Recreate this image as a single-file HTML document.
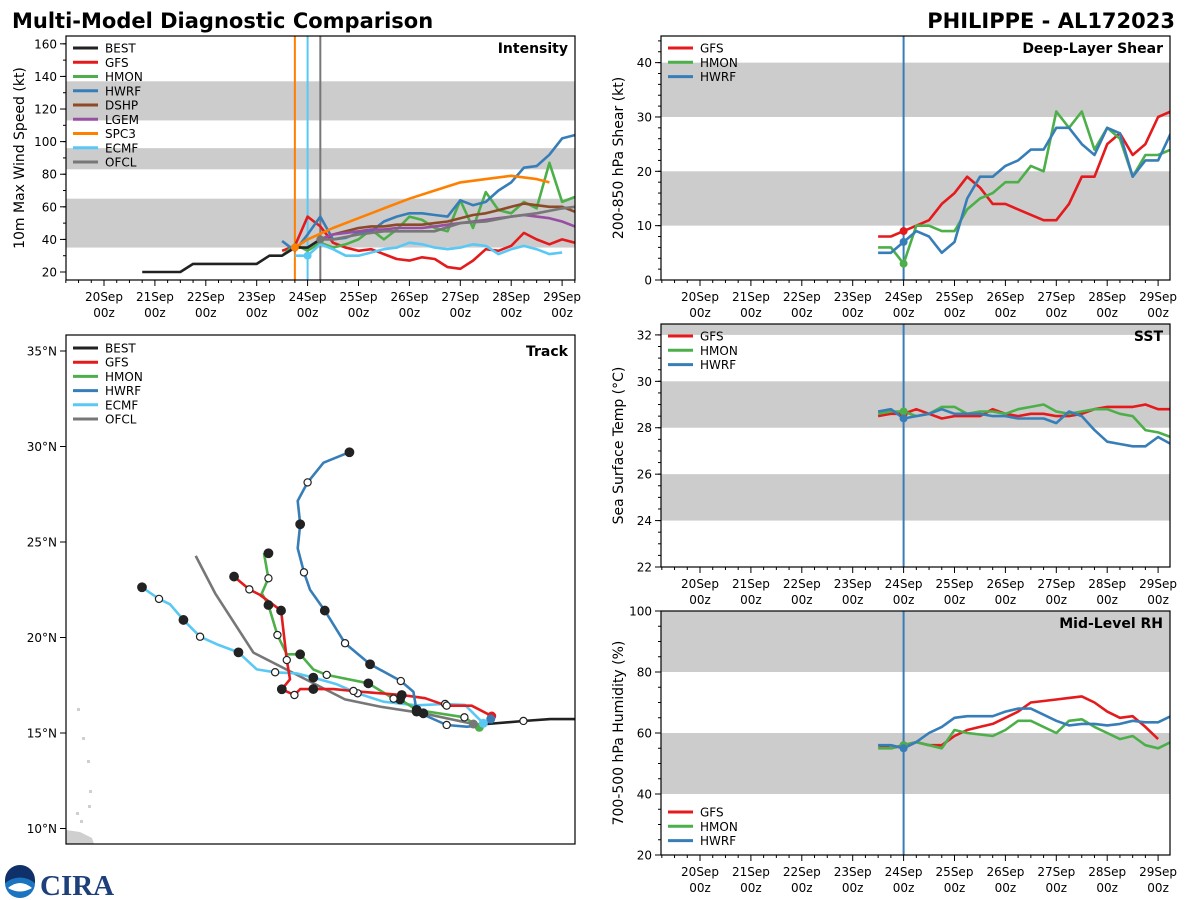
<!DOCTYPE html>
<html><head><meta charset="utf-8"><style>
html,body{margin:0;padding:0;background:#fff;}
svg{display:block;font-family:"DejaVu Sans","Liberation Sans",sans-serif;}
</style></head><body>
<svg id="chart" width="1200" height="900" viewBox="0 0 1200 900" xmlns="http://www.w3.org/2000/svg">
<text x="12" y="28" font-size="21" font-weight="bold" fill="#000">Multi-Model Diagnostic Comparison</text>
<text x="1175" y="28" font-size="21" font-weight="bold" fill="#000" text-anchor="end">PHILIPPE - AL172023</text>
<g>
<circle cx="20" cy="883" r="15" fill="#1a74c0"/>
<path d="M5,883 Q20,872 35,883 L35,880 A15,15 0 0 0 5,880 Z" fill="#10306a"/>
<path d="M8,888 Q20,878 32,888 Q20,895 8,888Z" fill="#fff"/>
<text x="40" y="895" font-size="29" font-weight="bold" fill="#1d3f7a" font-family="Liberation Serif,serif">CIRA</text>
</g>
</svg>
<script>
// ---------- data ----------
const T = [23.5,23.75,24,24.25,24.5,24.75,25,25.25,25.5,25.75,26,26.25,26.5,26.75,27,27.25,27.5,27.75,28,28.25,28.5,28.75,29,29.25];
const bestT = [20.75,21,21.25,21.5,21.75,22,22.25,22.5,22.75,23,23.25,23.5,23.75,24,24.25];
const bestV = [20,20,20,20,25,25,25,25,25,25,30,30,35,35,40];
const gfsV = [33,36,54,48,38,35,33,34,31,28,27,29,28,23,22,27,34,33,36,44,40,37,40,38];
const hmonV = [30,37,33,38,35,37,40,46,40,46,54,52,47,45,64,47,69,58,56,63,59,87,63,66];
const hwrfV = [39,33,43,54,40,41,44,45,51,54,56,56,55,54,64,61,63,70,75,84,85,92,102,104];
const dshpV = [40,43,45,47,48,48,49,49,49,50,51,53,55,56,58,60,62,61,60,60,57];
const lgemV = [40,43,44,45,46,46,47,47,47,48,49,50,51,52,53,54,55,54,53,51,48];
const spcT = [23.75,24,24.5,25,25.5,26,26.5,27,27.5,28,28.5,28.75];
const spcV = [35,40,47,53,59,65,70,75,77,79,77,75];
const ecmT = [23.75,24,24.25,24.5,24.75,25,25.25,25.5,25.75,26,26.25,26.5,26.75,27,27.25,27.5,27.75,28,28.25,28.5,28.75,29];
const ecmV = [30,30,37,34,30,30,32,34,35,38,37,35,34,35,37,36,31,34,36,34,31,32];
const ofclT = [24.25,24.5,25,25.5,26,26.5,27,27.5,28,28.5,29,29.25];
const ofclV = [40,40,43,45,45,45,50,51,54,56,59,60];

const shearGfs = [8,8,9,10,11,14,16,19,17,14,14,13,12,11,11,14,19,19,25,27,23,25,30,31];
const shearHmon = [6,6,3,10,10,9,9,13,15,16,18,18,21,20,31,28,31,24,28,26,19,23,23,24];
const shearHwrf = [5,5,7,9,8,5,7,15,19,19,21,22,24,24,28,28,25,23,28,27,19,22,22,27];

const sstGfs = [28.5,28.6,28.6,28.8,28.6,28.4,28.5,28.5,28.5,28.8,28.6,28.5,28.6,28.6,28.5,28.5,28.6,28.8,28.9,28.9,28.9,29.0,28.8,28.8];
const sstHmon = [28.6,28.7,28.7,28.5,28.6,28.9,28.9,28.6,28.7,28.7,28.6,28.8,28.9,29.0,28.7,28.6,28.7,28.8,28.8,28.6,28.5,27.9,27.8,27.6];
const sstHwrf = [28.7,28.8,28.4,28.5,28.6,28.8,28.6,28.6,28.6,28.5,28.5,28.4,28.4,28.4,28.2,28.7,28.5,27.9,27.4,27.3,27.2,27.2,27.6,27.3];

const rhGfs = [56,55,56,57,56,56,59,61,62,63,65,67,70,70.5,71,71.5,72,70,67,65,65.5,62,58];
const rhHmon = [55,55,56,57,56,55,61,60,59.5,59,61,64,64,62,60,64,64.5,62,60,58,59,56,55,57];
const rhHwrf = [56,56,55,57,60,62,65,65.5,65.5,65.5,67,68,68,66,64,62.5,63,63,62.5,63,64,63.5,63.5,65.5];

// track [lon, lat], markers f=filled, o=open
const trkBest = [[-35,15.73],[-36.3,15.73],[-37.7,15.63],[-39.6,15.47]];
const trkBestM = ['','','o',''];
const trkGfs = [[-39.36,15.89],[-40.41,16.43],[-41.72,16.43],[-42.85,16.82],[-44.07,16.99],[-46.25,17.16],[-46.6,17.2],[-47.65,17.3],[-48.7,17.3],[-49.39,17.3],[-49.69,16.99],[-50.35,17.29],[-49.92,17.81],[-50.09,18.82],[-50.39,21.41],[-51.49,22.23],[-52.05,22.52],[-52.85,23.19]];
const trkGfsM = ['','','o','','f','','o','','f','','o','f','','o','f','','o','f'];
const trkHmon = [[-40.01,15.3],[-40.79,15.82],[-43.29,16.21],[-44.16,16.76],[-44.5,16.8],[-45.82,17.6],[-48.0,18.04],[-48.7,18.33],[-49.39,19.12],[-50.09,19.12],[-50.58,20.13],[-51.05,21.7],[-51.4,22.31],[-51.05,23.1],[-51.28,24.37],[-51.05,24.41]];
const trkHmonM = ['','o','f','f','o','f','o','','f','','o','f','','o','','f'];
const trkHwrf = [[-39.41,15.73],[-39.8,15.4],[-40.67,15.33],[-41.72,15.42],[-43.29,16.12],[-43.46,17.16],[-44.12,17.72],[-45.73,18.6],[-47.04,19.7],[-48.1,21.41],[-48.87,22.49],[-49.19,23.41],[-49.52,24.67],[-49.39,25.93],[-49.52,27.15],[-49.0,28.12],[-48.17,29.15],[-46.81,29.7]];
const trkHwrfM = ['','','','o','f','','o','f','o','f','','o','','f','','o','','f'];
const trkEcmf = [[-39.8,15.51],[-40.76,16.47],[-41.8,16.52],[-43.3,16.45],[-45.03,16.64],[-46.38,17.08],[-47.47,17.55],[-48.7,17.9],[-49.57,18.12],[-50.7,18.18],[-51.66,18.33],[-52.62,19.22],[-53.67,19.61],[-54.63,20.04],[-55.5,20.92],[-56.2,21.74],[-56.78,22.02],[-57.67,22.63]];
const trkEcmfM = ['','','o','','','o','','f','','o','','f','','o','f','','o','f'];
const trkOfcl = [[-40.32,15.47],[-42.94,16.03],[-45.21,16.38],[-47.04,16.76],[-51.84,19.21],[-53.84,22.31],[-54.86,24.27]];
const trkOfclM = ['','f','','','','',''];
const latTicks = [35,30,25,20,15,10];

// ---------- drawing ----------
const svg = document.getElementById('chart');
const NS = 'http://www.w3.org/2000/svg';
function el(tag, attrs, parent){ const e=document.createElementNS(NS,tag); for(const k in attrs) e.setAttribute(k,attrs[k]); (parent||svg).appendChild(e); return e; }
const C = {BEST:'#222222',GFS:'#e41a1c',HMON:'#4daf4a',HWRF:'#377eb8',DSHP:'#8c4b26',LGEM:'#984ea3',SPC3:'#ff7f00',ECMF:'#5ac8f5',OFCL:'#777777'};
const dayPx = 50.9;
const dates = ['20Sep','21Sep','22Sep','23Sep','24Sep','25Sep','26Sep','27Sep','28Sep','29Sep'];

function panel(p){
  const g = el('g',{});
  
  
  const cid = 'clip-'+p.name;
  const cp = el('clipPath',{id:cid},g); el('rect',{x:p.l,y:p.t,width:p.r-p.l,height:p.b-p.t},cp);
  p.X = d => p.x20 + (d-20)*dayPx;
  p.Y = v => p.b - (v - p.vmin)*(p.b-p.t)/(p.vmax-p.vmin);
  p.g = g; p.clip = 'url(#'+cid+')';
  p.bands.forEach(bd=>{
    const r = el('rect',{x:p.l,y:p.Y(bd[1]),width:p.r-p.l,height:p.Y(bd[0])-p.Y(bd[1]),fill:'#cccccc','clip-path':p.clip},g);
    
    
  });
  if(p.xaxis){
    for(let d=19.25; d<=29.3; d+=0.25){
      const x=p.X(d); if(x<p.l-0.5||x>p.r+0.5) continue;
      const major = Math.abs(d-Math.round(d))<1e-6;
      el('line',{x1:x,x2:x,y1:p.b,y2:p.b+(major?6:3),stroke:'#000','stroke-width':1},g);
    }
    dates.forEach((s,i)=>{
      const x=p.X(20+i);
      const t1=el('text',{x:x,y:p.b+21,'font-size':12,'text-anchor':'middle'},g); t1.textContent=s;
      
      
      const t2=el('text',{x:x,y:p.b+37,'font-size':12,'text-anchor':'middle'},g); t2.textContent='00z';
    });
  }
  if(p.yticks){
    for(let v=p.minorStart; v<=p.vmax+1e-6; v+=p.minor){
      const y=p.Y(v); if(y<p.t-0.5||y>p.b+0.5) continue;
      el('line',{x1:p.l-3,x2:p.l,y1:y,y2:y,stroke:'#000'},g);
    }
    p.yticks.forEach(v=>{
      const y=p.Y(v);
      el('line',{x1:p.l-6,x2:p.l,y1:y,y2:y,stroke:'#000'},g);
      const t=el('text',{x:p.l-9,y:y+4.5,'font-size':12,'text-anchor':'end'},g); t.textContent=v;
      
      
    });
  }
  if(p.ytitle){
    const cy=(p.t+p.b)/2;
    const t=el('text',{x:p.ytx,y:cy,'font-size':14,'text-anchor':'middle',transform:`rotate(-90 ${p.ytx} ${cy})`},g);
    t.textContent=p.ytitle;
    
    
  }
  const tt=el('text',{x:p.r-7,y:p.t+17,'font-size':14,'font-weight':'bold','text-anchor':'end'},g); tt.textContent=p.title;
  
  
  return p;
}
function frame(p){
  const r=el('rect',{x:p.l,y:p.t,width:p.r-p.l,height:p.b-p.t,fill:'none',stroke:'#000','stroke-width':1.2},p.g);
  
  
}
function series(p, ts, vs, color, name){
  const pts = vs.map((v,i)=>p.X(ts[i]).toFixed(1)+','+p.Y(v).toFixed(1)).join(' ');
  const pl=el('polyline',{points:pts,fill:'none',stroke:color,'stroke-width':2.6,'stroke-linejoin':'round','clip-path':p.clip},p.g);
  
  
}
function dot(p,d,v,color){
  const c=el('circle',{cx:p.X(d),cy:p.Y(v),r:4,fill:color},p.g);
  
  
}
function legend(p, names, x, y, dy){
  const lg=el('g',{},p.g);
  
  
  names.forEach((n,i)=>{
    const yy=y+i*dy;
    el('line',{x1:x,x2:x+25,y1:yy,y2:yy,stroke:C[n],'stroke-width':3},lg);
    const t=el('text',{x:x+32,y:yy+4.5,'font-size':12},lg); t.textContent=n;
    
    
  });
}

// Intensity
const pI = panel({name:'intensity-panel',l:66,r:575,t:36,b:280,x20:104,vmin:15.1,vmax:164.8,
  bands:[[35,65],[83,96],[113,137]],xaxis:true,yticks:[20,40,60,80,100,120,140,160],minor:10,minorStart:20,
  ytitle:'10m Max Wind Speed (kt)',ytx:24,title:'Intensity'});
[[23.75,'SPC3'],[24,'ECMF'],[24.25,'OFCL']].forEach(a=>{
  const ln=el('line',{x1:pI.X(a[0]),x2:pI.X(a[0]),y1:pI.t,y2:pI.b,stroke:C[a[1]],'stroke-width':2},pI.g);
  
  
});
series(pI,T,gfsV,C.GFS,'gfs-intensity');
series(pI,T,hmonV,C.HMON,'hmon-intensity');
series(pI,T,hwrfV,C.HWRF,'hwrf-intensity');
series(pI,T.slice(3),dshpV,C.DSHP,'dshp-intensity');
series(pI,T.slice(3),lgemV,C.LGEM,'lgem-intensity');
series(pI,spcT,spcV,C.SPC3,'spc3-intensity');
series(pI,ecmT,ecmV,C.ECMF,'ecmf-intensity');
series(pI,ofclT,ofclV,C.OFCL,'ofcl-intensity');
series(pI,bestT,bestV,C.BEST,'best-intensity');
dot(pI,spcT[0],spcV[0],C.SPC3); dot(pI,ecmT[1],ecmV[1],C.ECMF); dot(pI,ofclT[0],ofclV[0],C.OFCL);
legend(pI,['BEST','GFS','HMON','HWRF','DSHP','LGEM','SPC3','ECMF','OFCL'],73,48,14.25);
frame(pI);

// Shear
const pS = panel({name:'shear-panel',l:661,r:1170,t:36,b:280,x20:700,vmin:0,vmax:44.9,
  bands:[[10,20],[30,40]],xaxis:true,yticks:[0,10,20,30,40],minor:2,minorStart:0,
  ytitle:'200-850 hPa Shear (kt)',ytx:623,title:'Deep-Layer Shear'});
function initLine(p){ const ln=el('line',{x1:p.X(24),x2:p.X(24),y1:p.t,y2:p.b,stroke:C.HWRF,'stroke-width':2},p.g);
    }
initLine(pS);
series(pS,T,shearGfs,C.GFS,'gfs-shear'); series(pS,T,shearHmon,C.HMON,'hmon-shear'); series(pS,T,shearHwrf,C.HWRF,'hwrf-shear');
dot(pS,24,shearGfs[2],C.GFS); dot(pS,24,shearHmon[2],C.HMON); dot(pS,24,shearHwrf[2],C.HWRF);
legend(pS,['GFS','HMON','HWRF'],668,48,14.3);
frame(pS);

// SST
const pT = panel({name:'sst-panel',l:661,r:1170,t:324,b:567,x20:700,vmin:22,vmax:32.47,
  bands:[[24,26],[28,30],[32,34]],xaxis:true,yticks:[22,24,26,28,30,32],minor:0.5,minorStart:22,
  ytitle:'Sea Surface Temp (°C)',ytx:623,title:'SST'});
initLine(pT);
series(pT,T,sstGfs,C.GFS,'gfs-sst'); series(pT,T,sstHmon,C.HMON,'hmon-sst'); series(pT,T,sstHwrf,C.HWRF,'hwrf-sst');
dot(pT,24,sstGfs[2],C.GFS); dot(pT,24,sstHmon[2],C.HMON); dot(pT,24,sstHwrf[2],C.HWRF);
legend(pT,['GFS','HMON','HWRF'],668,336,14.3);
frame(pT);

// RH
const pR = panel({name:'rh-panel',l:661,r:1170,t:611,b:855,x20:700,vmin:20,vmax:100,
  bands:[[40,60],[80,100]],xaxis:true,yticks:[20,40,60,80,100],minor:5,minorStart:20,
  ytitle:'700-500 hPa Humidity (%)',ytx:623,title:'Mid-Level RH'});
initLine(pR);
series(pR,T.slice(0,rhGfs.length),rhGfs,C.GFS,'gfs-rh'); series(pR,T,rhHmon,C.HMON,'hmon-rh'); series(pR,T,rhHwrf,C.HWRF,'hwrf-rh');
dot(pR,24,rhGfs[2],C.GFS); dot(pR,24,rhHmon[2],C.HMON); dot(pR,24,rhHwrf[2],C.HWRF);
legend(pR,['GFS','HMON','HWRF'],668,812,14.3);
frame(pR);

// Track
const tg = el('g',{});  
const tcp = el('clipPath',{id:'clip-track'},tg); el('rect',{x:66,y:335,width:509,height:509},tcp);
const LX = lon => 575 - (-35 - lon)*19.1;
const LY = lat => 351 + (35 - lat)*19.1;
const isl = el('g',{'clip-path':'url(#clip-track)',fill:'#cfcfcf'},tg);
 
el('path',{d:'M66,830 L80,832 L92,838 L94,844 L66,844 Z'},isl);
[[77,708],[82,737],[87,760],[89,790],[88,805],[76,812],[80,820]].forEach(q=>el('rect',{x:q[0],y:q[1],width:3,height:3},isl));
latTicks.forEach(l=>{
  const y=LY(l);
  el('line',{x1:60,x2:66,y1:y,y2:y,stroke:'#000'},tg);
  const t=el('text',{x:57,y:y+4.5,'font-size':12,'text-anchor':'end'},tg); t.textContent=l+'°N';
   
});
function track(pts, marks, color, name){
  const pl=el('polyline',{points:pts.map(q=>LX(q[0]).toFixed(1)+','+LY(q[1]).toFixed(1)).join(' '),fill:'none',stroke:color,'stroke-width':2.6,'stroke-linejoin':'round','clip-path':'url(#clip-track)'},tg);
  
  
  return ()=>pts.forEach((q,i)=>{
    if(!marks[i]) return;
    const c=el('circle',{cx:LX(q[0]),cy:LY(q[1]),r:marks[i]==='f'?4.3:3.6,fill:marks[i]==='f'?'#222':'#fff',stroke:'#222','stroke-width':1.2},tg);
    
    
  });
}
const mk=[];
mk.push(track(trkBest,trkBestM,C.BEST,'best-track'));
mk.push(track(trkOfcl,trkOfclM,C.OFCL,'ofcl-track'));
mk.push(track(trkEcmf,trkEcmfM,C.ECMF,'ecmf-track'));
mk.push(track(trkHmon,trkHmonM,C.HMON,'hmon-track'));
mk.push(track(trkGfs,trkGfsM,C.GFS,'gfs-track'));
mk.push(track(trkHwrf,trkHwrfM,C.HWRF,'hwrf-track'));
mk.forEach(f=>f());
[[trkGfs,C.GFS],[trkHwrf,C.HWRF],[trkHmon,C.HMON],[trkEcmf,C.ECMF],[trkOfcl,C.OFCL]].forEach(a=>{
  const c=el('circle',{cx:LX(a[0][0][0]),cy:LY(a[0][0][1]),r:4.5,fill:a[1]},tg);
   
});
const tt=el('text',{x:568,y:356,'font-size':14,'font-weight':'bold','text-anchor':'end'},tg); tt.textContent='Track';
 
legend({g:tg},['BEST','GFS','HMON','HWRF','ECMF','OFCL'],73,348,14.2);
const fr=el('rect',{x:66,y:335,width:509,height:509,fill:'none',stroke:'#000','stroke-width':1.2},tg);
 
</script>
</body></html>
